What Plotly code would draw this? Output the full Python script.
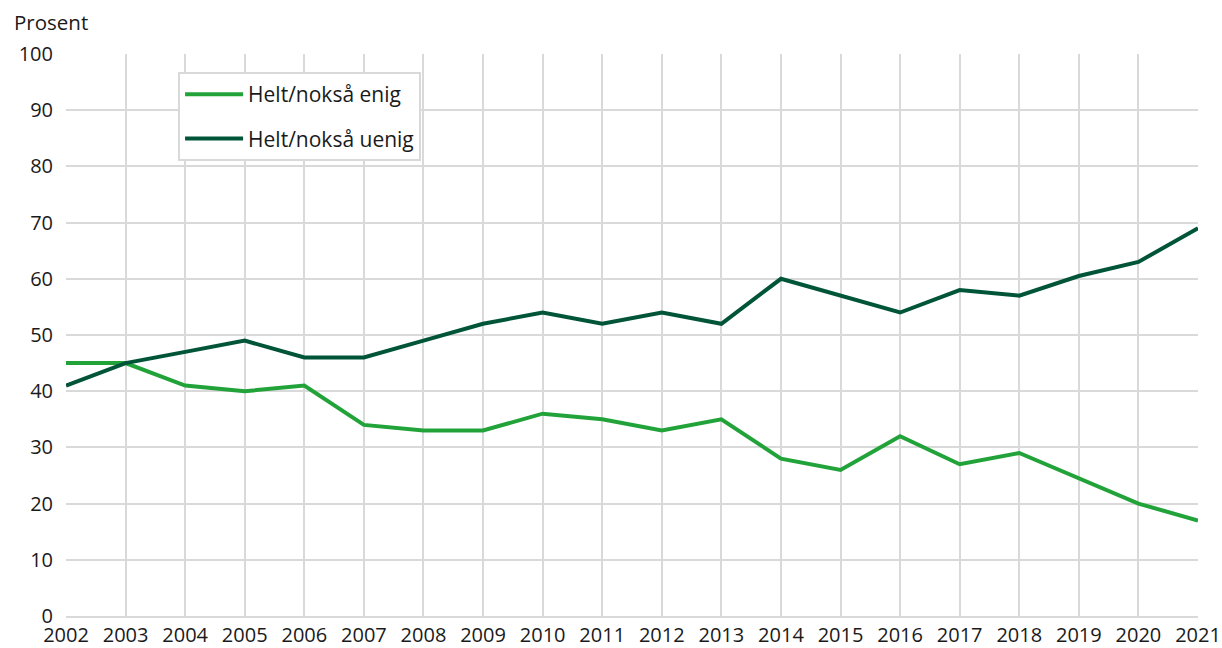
import plotly.graph_objects as go

years = list(range(2002, 2022))
enig = [45, 45, 41, 40, 41, 34, 33, 33, 36, 35, 33, 35, 28, 26, 32, 27, 29, 24.5, 20, 17]
uenig = [41, 45, 47, 49, 46, 46, 49, 52, 54, 52, 54, 52, 60, 57, 54, 58, 57, 60.5, 63, 69]
y_ticks = list(range(0, 101, 10))

FONT = "Open Sans"
fig = go.Figure()
fig.add_trace(go.Scatter(x=years, y=enig, mode="lines", name="Helt/nokså enig",
                         legendgroup="a", line=dict(color="#22a33a", width=4)))
fig.add_trace(go.Scatter(x=years, y=uenig, mode="lines", name="Helt/nokså uenig",
                         legendgroup="b", line=dict(color="#005538", width=4)))

fig.update_layout(
    width=1222, height=648,
    margin=dict(l=66, r=24, t=54, b=32),
    paper_bgcolor="white", plot_bgcolor="white",
    font=dict(family=FONT, size=20, color="#1a1a1a"),
    showlegend=True,
    legend=dict(x=0.099, y=0.968, xanchor="left", yanchor="top",
                bordercolor="#d9d9d9", borderwidth=2, bgcolor="white",
                font=dict(size=21), traceorder="grouped", tracegroupgap=14,
                itemwidth=58),
    xaxis=dict(range=[2002, 2021], tickmode="array", tickvals=years,
               ticktext=[str(y) for y in years], automargin=False,
               showgrid=True, gridcolor="#d9d9d9", gridwidth=2,
               showline=True, linecolor="#d9d9d9", linewidth=2,
               zeroline=False, ticks="", ticklabelstandoff=0),
    yaxis=dict(range=[0, 100], tickmode="array", tickvals=y_ticks, automargin=False,
               showgrid=True, gridcolor="#d9d9d9", gridwidth=2,
               zeroline=False, ticks="", showline=False, ticklabelstandoff=12),
    annotations=[dict(text="Prosent", xref="paper", yref="paper", x=-0.048, y=1.028,
                      xanchor="left", yanchor="bottom", showarrow=False,
                      font=dict(size=20.5, family=FONT))],
)
fig.write_html("out.html", config={"displayModeBar": False},
               post_script="document.body.style.margin='0';document.body.style.overflow='hidden';")
